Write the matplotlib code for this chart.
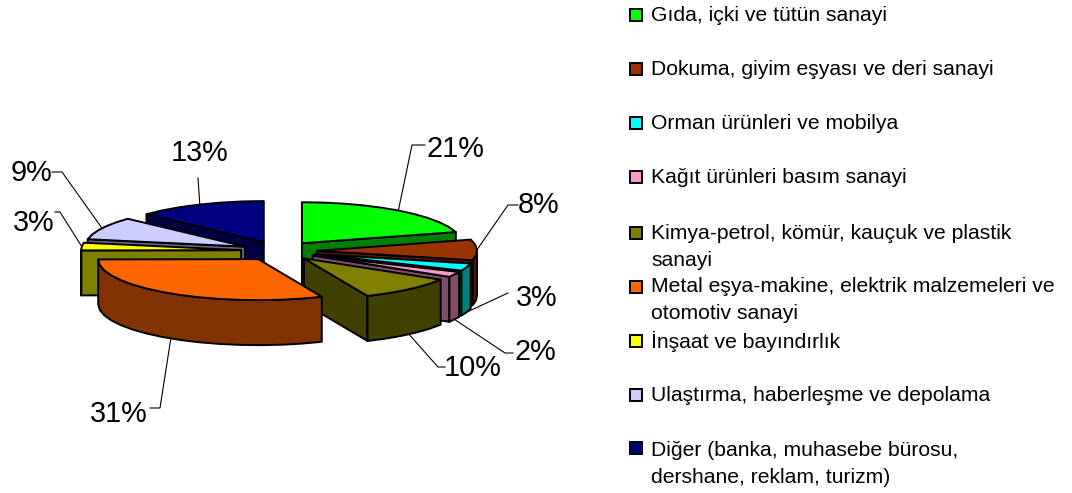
# -*- coding: utf-8 -*-
import numpy as np
import matplotlib
matplotlib.use('Agg')
import matplotlib.pyplot as plt
from matplotlib.patches import Polygon, Rectangle
from matplotlib.colors import to_rgb

plt.rcParams['font.family'] = ['Liberation Sans', 'DejaVu Sans']

labels = ['Gıda, içki ve tütün sanayi',
          'Dokuma, giyim eşyası ve deri sanayi',
          'Orman ürünleri ve mobilya',
          'Kağıt ürünleri basım sanayi',
          'Kimya-petrol, kömür, kauçuk ve plastik\nsanayi',
          'Metal eşya-makine, elektrik malzemeleri ve\notomotiv sanayi',
          'İnşaat ve bayındırlık',
          'Ulaştırma, haberleşme ve depolama',
          'Diğer (banka, muhasebe bürosu,\ndershane, reklam, turizm)']
# the labels show them rounded
values = [20.6, 8.1, 2.9, 2.1, 9.8, 31.4, 3.0, 9.0, 13.1]
colors = ['#00FF00', '#993300', '#00FFFF', '#FF99CC', '#808000',
          '#FF6600', '#FFFF00', '#CCCCFF', '#000080']

# layout, in pixels of the 1072x493 picture
cx, cy = 279, 251
rx, ry = 160, 41
explode = 38
depth = 45
draw_order = [8, 0, 7, 1, 6, 2, 3, 4, 5]
legend_y = [14, 68, 122, 176, 232, 286, 340, 394, 447]
legend_text_y = [14, 68, 122, 176, 232, 285, 339, 394, 449]
# label x, label y, elbow x, elbow y, end x, leader from bottom of rim?
label_pos = [
    (455, 149, 412, 145, 425, False),
    (539, 205, 508, 205, 518, False),
    (537, 298, 508, 293, 508, True),
    (535, 352, 505, 353, 513, True),
    (473, 368, 438, 367, 445, True),
    (119, 414, 160, 408, 150, True),
    (34, 223, 60, 212, 55, False),
    (31, 173, 62, 172, 52, False),
    (200, 153, 198, 178, 198, False),
]

fig = plt.figure(figsize=(10.72, 4.93), dpi=100)
ax = fig.add_axes([0, 0, 1, 1])
ax.set_xlim(0, 1072)
ax.set_ylim(493, 0)
ax.axis('off')

edges = np.concatenate(([0], np.cumsum(values))) * 360.0 / sum(values)


def rim(ox, oy, a1, a2):
    # coarse steps, the rim of the original is not a clean curve
    n = max(2, int((a2 - a1) / 8) + 2)
    t = np.radians(np.linspace(a1, a2, n))
    return np.column_stack((ox + rx * np.sin(t), oy - ry * np.cos(t)))


def face(pts, color, z):
    ax.add_patch(Polygon(pts, closed=True, facecolor=color, edgecolor='black',
                         linewidth=1.4, joinstyle='round', zorder=z))


def dark(color):
    return tuple(c * 0.5 for c in to_rgb(color))


apexes = []
for i in range(len(values)):
    mid = np.radians((edges[i] + edges[i + 1]) / 2)
    apexes.append((cx + explode * np.sin(mid),
                   cy - explode * np.cos(mid) * ry / rx))

z = 2
for i in draw_order:
    a1, a2 = edges[i], edges[i + 1]
    ox, oy = apexes[i]
    side = dark(colors[i])
    arc = rim(ox, oy, a1, a2)
    down = np.array([0, depth])
    apex = np.array([[ox, oy]])
    # cut faces that turn towards the viewer
    if np.sin(np.radians(a2)) > 1e-6:
        e = arc[-1:]
        face(np.vstack((apex, e, e + down, apex + down)), side, z)
    if np.sin(np.radians(a1)) < -1e-6:
        e = arc[:1]
        face(np.vstack((apex, e, e + down, apex + down)), side, z)
    # outer rim, only the front part of the ellipse
    lo, hi = max(a1, 90), min(a2, 270)
    if hi > lo:
        front = rim(ox, oy, lo, hi)
        face(np.vstack((front, (front + down)[::-1])), side, z)
    face(np.vstack((apex, arc)), colors[i], z)
    z += 1

# percentage labels and their leader lines
for i, (tx, ty, ex, ey, lx, low) in enumerate(label_pos):
    mid = (edges[i] + edges[i + 1]) / 2
    p = rim(apexes[i][0], apexes[i][1], mid, mid)[0]
    sy = p[1] + depth if low else p[1]
    ax.plot([p[0], ex, lx], [sy, ey, ey], color='black', lw=0.8, zorder=30,
            solid_joinstyle='miter')
    ax.text(tx, ty, '%d%%' % round(values[i]), fontsize=20.8, ha='center', va='center',
            color='black', zorder=31)

# legend
for lab, col, y, ty in zip(labels, colors, legend_y, legend_text_y):
    ax.add_patch(Rectangle((630, y - 5), 12, 12, facecolor=col, edgecolor='black',
                           linewidth=1.4, zorder=5))
    ax.text(651, ty - 8, lab, fontsize=15.2, ha='left', va='top', color='black',
            linespacing=1.55)

fig.savefig('out.png', dpi=100, facecolor='white')
